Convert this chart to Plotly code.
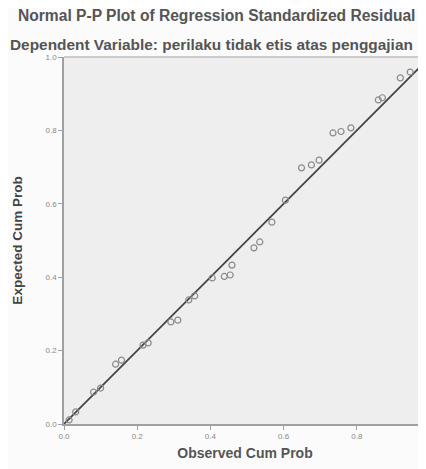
import plotly.graph_objects as go

observed = [0.014, 0.032, 0.081, 0.100, 0.141, 0.157, 0.216, 0.230, 0.292, 0.311,
            0.341, 0.357, 0.405, 0.438, 0.454, 0.459, 0.519, 0.535, 0.568, 0.605,
            0.649, 0.676, 0.697, 0.735, 0.757, 0.784, 0.859, 0.870, 0.919, 0.946]
expected = [0.011, 0.033, 0.087, 0.098, 0.163, 0.174, 0.215, 0.221, 0.278, 0.283,
            0.338, 0.349, 0.398, 0.402, 0.406, 0.433, 0.480, 0.496, 0.550, 0.610,
            0.698, 0.706, 0.719, 0.793, 0.797, 0.807, 0.883, 0.889, 0.943, 0.959]
ref_line = [0.0, 1.0]
tick_vals = [0.0, 0.2, 0.4, 0.6, 0.8, 1.0]
tick_text = ["0.0", "0.2", "0.4", "0.6", "0.8", "1.0"]

title1 = "Normal P-P Plot of Regression Standardized Residual"
title2 = "Dependent Variable: perilaku tidak etis atas penggajian"

fig = go.Figure()
fig.add_trace(go.Scatter(x=ref_line, y=ref_line, mode="lines",
                         line=dict(color="#444444", width=1.8),
                         hoverinfo="skip", showlegend=False))
fig.add_trace(go.Scatter(x=observed, y=expected, mode="markers",
                         marker=dict(symbol="circle-open", size=6,
                                     color="#8a8a8a", line=dict(width=1.2)),
                         showlegend=False))

W, H = 426, 469
L, T, B, R = 52, 49, 53, 8
PW = W - L - R
xmax = PW / 370.0

fig.update_layout(
    width=W, height=H,
    margin=dict(l=L, r=R, t=T, b=B),
    paper_bgcolor="#fbfbfb",
    plot_bgcolor="#eeeeee",
    font=dict(family="Liberation Sans, Arial, sans-serif", color="#555555"),
    annotations=[
        dict(text="<b>" + title1 + "</b>", xref="paper", yref="paper",
             x=(9 - L) / PW, y=1, yshift=42, xshift=-5, xanchor="left",
             yanchor="middle", showarrow=False,
             font=dict(size=15.6, color="#555555")),
        dict(text="<b>" + title2 + "</b>", xref="paper", yref="paper",
             x=(4 - L) / PW, y=1, yshift=13, xshift=-9, xanchor="left",
             yanchor="middle", showarrow=False,
             font=dict(size=15.4, color="#555555")),
    ],
)
fig.update_xaxes(range=[0, xmax], tickvals=tick_vals, ticktext=tick_text,
                 showgrid=False, zeroline=False, showline=True,
                 linecolor="#a0a0a0", linewidth=1.5, mirror=False,
                 ticks="outside", ticklen=4, tickcolor="#a0a0a0",
                 tickfont=dict(size=8, color="#888888"),
                 title=dict(text="<b>Observed Cum Prob</b>", standoff=8,
                            font=dict(size=14, color="#555555")))
fig.update_yaxes(range=[0, 1], tickvals=tick_vals, ticktext=tick_text,
                 showgrid=False, zeroline=False, showline=True,
                 linecolor="#a0a0a0", linewidth=1.5,
                 ticks="outside", ticklen=4, tickcolor="#a0a0a0",
                 tickfont=dict(size=8, color="#888888"),
                 title=dict(text="<b>Expected Cum Prob</b>", standoff=20,
                            font=dict(size=13.5, color="#444444")))
fig.add_shape(type="line", xref="paper", yref="paper", x0=0, x1=1, y0=1, y1=1,
              line=dict(color="#cccccc", width=2))

fig.write_html("out.html")
